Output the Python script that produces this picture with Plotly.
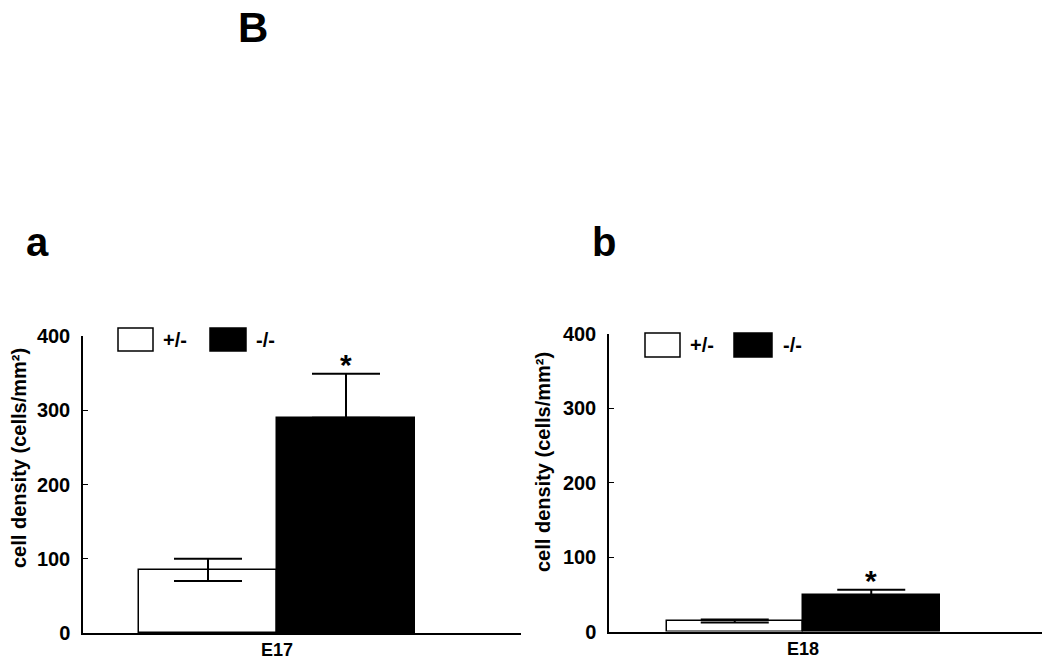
import plotly.graph_objects as go

# ---- data ----
stages = ["E17", "E18"]
genotypes = ["+/-", "-/-"]
mean_het = [85, 14]        # +/-
sem_het = [15, 2]
mean_ko = [290, 49]        # -/-
sem_ko = [59, 7]
y_ticks = [0, 100, 200, 300, 400]

FONT = "Liberation Sans, Arial, sans-serif"
W, H = 1050, 659
OFF = 8  # page body margin offset

def px(x):
    return (x - OFF) / W

def py(y):
    return 1 - (y - OFF) / H

fig = go.Figure()

panels = [
    dict(xa="x", ya="y", xdom=[px(83), px(521)], ydom=[py(633), py(336)],
         xr=[(83 - 277) / 138.0, (521 - 277) / 138.0]),
    dict(xa="x2", ya="y2", xdom=[px(609), 1.0], ydom=[py(631.5), py(334)],
         xr=[(609 - 803) / 136.5, (1058 - 803) / 136.5]),
]

for i, p in enumerate(panels):
    fig.add_trace(go.Bar(
        x=[-0.5], y=[mean_het[i]], width=[1.0],
        marker=dict(color="white", line=dict(color="black", width=1.5)),
        error_y=dict(type="data", array=[sem_het[i]], color="black", thickness=2, width=34),
        xaxis=p["xa"], yaxis=p["ya"], showlegend=False, name=genotypes[0]))
    fig.add_trace(go.Bar(
        x=[0.5], y=[mean_ko[i]], width=[1.0],
        marker=dict(color="black", line=dict(color="black", width=1.5)),
        error_y=dict(type="data", symmetric=False, array=[sem_ko[i]], arrayminus=[0],
                     color="black", thickness=2, width=34),
        xaxis=p["xa"], yaxis=p["ya"], showlegend=False, name=genotypes[1]))
    # significance star
    fig.add_annotation(x=0.5, y=mean_ko[i] + sem_ko[i], xref=p["xa"], yref=p["ya"],
                       text="<b>*</b>", showarrow=False, xanchor="center", yanchor="bottom",
                       yshift=-9, font=dict(family=FONT, size=30, color="black"))

    axis_common = dict(showline=True, linecolor="black", linewidth=1.5, mirror=False,
                       showgrid=False, zeroline=False, automargin=False)
    fig.layout["xaxis" + ("" if i == 0 else "2")] = dict(
        domain=p["xdom"], range=p["xr"], anchor=p["ya"],
        tickvals=[0], ticktext=["<b>%s</b>" % stages[i]], ticks="",
        tickfont=dict(family=FONT, size=18, color="black"), fixedrange=True, **axis_common)
    fig.layout["yaxis" + ("" if i == 0 else "2")] = dict(
        domain=p["ydom"], range=[0, 400], anchor=p["xa"],
        tickvals=y_ticks, ticktext=["<b>%d</b>" % v for v in y_ticks],
        ticks="inside", ticklen=5, tickwidth=1.2, tickcolor="black",
        ticklabelstandoff=7,
        tickfont=dict(family=FONT, size=20, color="black"), **axis_common)

# y axis titles
for xc, yc in [(19, 458), (543, 462)]:
    fig.add_annotation(x=px(xc), y=py(yc), xref="paper", yref="paper",
                       xanchor="center", yanchor="middle",
                       text="<b>cell density (cells/mm²)</b>", textangle=-90,
                       showarrow=False, font=dict(family=FONT, size=20, color="black"))

# legends (boxes + labels)
legend_specs = [
    (118, 153, 328, 351, 161, 210, 246, 254),
    (645, 680, 333, 357, 688, 734, 772, 781),
]
for (wx0, wx1, y0, y1, tx1, bx0, bx1, tx2) in legend_specs:
    fig.add_shape(type="rect", xref="paper", yref="paper",
                  x0=px(wx0), x1=px(wx1), y0=py(y1), y1=py(y0),
                  line=dict(color="black", width=1.5), fillcolor="white")
    fig.add_shape(type="rect", xref="paper", yref="paper",
                  x0=px(bx0), x1=px(bx1), y0=py(y1), y1=py(y0),
                  line=dict(color="black", width=1.5), fillcolor="black")
    for tx, label in [(tx1, genotypes[0]), (tx2, genotypes[1])]:
        fig.add_annotation(x=px(tx), y=py((y0 + y1) / 2), xref="paper", yref="paper",
                           text="<b>%s</b>" % label, showarrow=False,
                           xanchor="left", yanchor="middle",
                           font=dict(family=FONT, size=20, color="black"))

# panel letters
for txt, xc, yc, sz in [("B", 253, 28, 42), ("a", 37, 242, 40), ("b", 604, 242, 40)]:
    fig.add_annotation(x=px(xc), y=py(yc), xref="paper", yref="paper",
                       xanchor="center", yanchor="middle",
                       text="<b>%s</b>" % txt, showarrow=False,
                       font=dict(family=FONT, size=sz, color="black"))

fig.update_layout(width=W, height=H, margin=dict(l=0, r=0, t=0, b=0, autoexpand=False),
                  paper_bgcolor="white", plot_bgcolor="white", bargap=0,
                  barmode="overlay")

fig.write_html("out.html")
